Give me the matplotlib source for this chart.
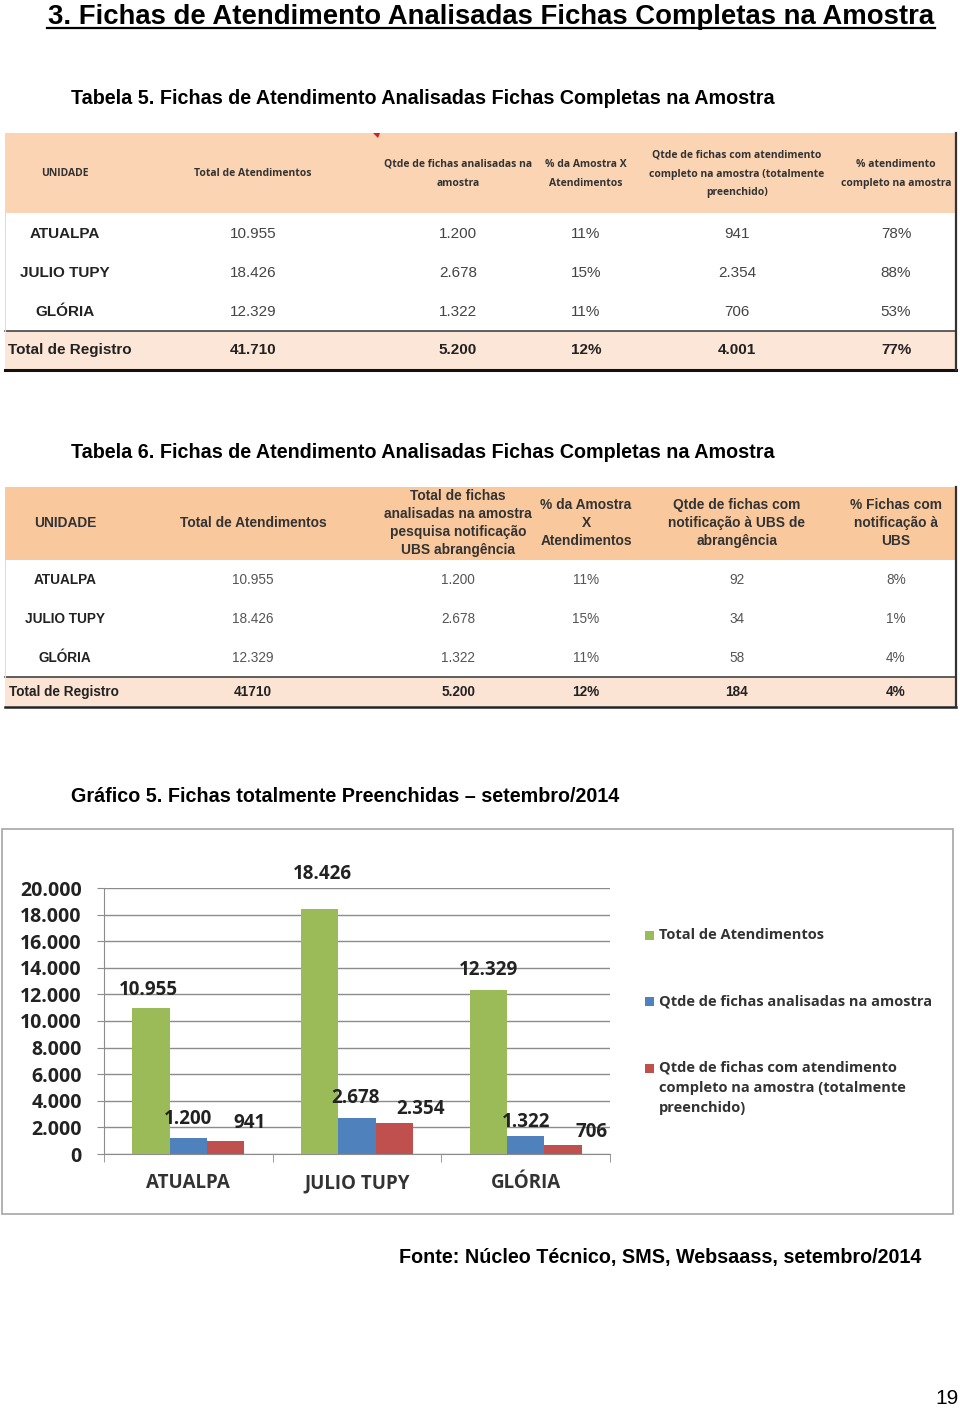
import matplotlib
matplotlib.use("Agg")
import matplotlib.pyplot as plt
from matplotlib.patches import Rectangle, Polygon

# data read from the page
units = ["ATUALPA", "JULIO TUPY", "GLÓRIA"]
total_atend = [10955, 18426, 12329]
fichas_amostra = [1200, 2678, 1322]
pct_amostra = [11, 15, 11]
fichas_completas = [941, 2354, 706]
pct_completas = [78, 88, 53]
fichas_notif = [92, 34, 58]
pct_notif = [8, 1, 4]

tot5 = ["41.710", "5.200", "12%", "4.001", "77%"]
tot6 = ["41710", "5.200", "12%", "184", "4%"]

head5 = ["UNIDADE", "Total de Atendimentos", "Qtde de fichas analisadas na\namostra",
         "% da Amostra X\nAtendimentos",
         "Qtde de fichas com atendimento\ncompleto na amostra (totalmente\npreenchido)",
         "% atendimento\ncompleto na amostra"]
head6 = ["UNIDADE", "Total de Atendimentos",
         "Total de fichas\nanalisadas na amostra\npesquisa notificação\nUBS abrangência",
         "% da Amostra\nX\nAtendimentos", "Qtde de fichas com\nnotificação à UBS de\nabrangência",
         "% Fichas com\nnotificação à\nUBS"]

series_names = ["Total de Atendimentos", "Qtde de fichas analisadas na amostra",
                "Qtde de fichas com atendimento\ncompleto na amostra (totalmente\npreenchido)"]
series_colors = ["#9BBB59", "#4F81BD", "#C0504D"]


def br(v):
    return f"{v:,}".replace(",", ".")


W, H = 960, 1412
fig = plt.figure(figsize=(W / 100, H / 100), dpi=100)
bg = fig.add_axes([0, 0, 1, 1])
bg.set_xlim(0, W)
bg.set_ylim(H, 0)
bg.axis("off")

AR = "Liberation Sans"
CAL = "Open Sans"

# page title
bg.text(491, 24, "3. Fichas de Atendimento Analisadas Fichas Completas na Amostra",
        ha="center", va="baseline", fontsize=19.8, fontweight="bold", family=AR)
bg.plot([47, 935], [27.5, 27.5], color="black", lw=1.6)

bg.text(71, 98, "Tabela 5. Fichas de Atendimento Analisadas Fichas Completas na Amostra",
        ha="left", va="center", fontsize=14.2, fontweight="bold", family=AR)
bg.text(71, 452, "Tabela 6. Fichas de Atendimento Analisadas Fichas Completas na Amostra",
        ha="left", va="center", fontsize=14.2, fontweight="bold", family=AR)
bg.text(71, 797, "Gráfico 5. Fichas totalmente Preenchidas – setembro/2014",
        ha="left", va="center", fontsize=14.2, fontweight="bold", family=AR)
bg.text(921, 1257, "Fonte: Núcleo Técnico, SMS, Websaass, setembro/2014",
        ha="right", va="center", fontsize=14.2, fontweight="bold", family=AR)
bg.text(959, 1399, "19", ha="right", va="center", fontsize=15, family=AR)

col_x = [65, 253, 458, 586, 737, 896]

# ---- Tabela 5
bg.add_patch(Rectangle((5, 133), 950, 80, color="#FBD4B4", lw=0))
bg.add_patch(Rectangle((5, 331), 950, 38, color="#FCE6D8", lw=0))
bg.plot([5, 955], [331, 331], color="#444444", lw=1.2)
bg.plot([5, 956], [369.5, 369.5], color="#111111", lw=2.2)
bg.plot([955.5, 955.5], [133, 370], color="#333333", lw=1.6)
bg.plot([5, 5], [213, 331], color="#DDDDDD", lw=0.8)
bg.add_patch(Polygon([[373, 133], [380, 133], [378, 138]], color="#CC2222", lw=0))
for x, h in zip(col_x, head5):
    bg.text(x, 174, h, ha="center", va="center", fontsize=7.5, fontweight="bold",
            family=CAL, color="#333333", linespacing=2.0)
rows5 = zip(units, total_atend, fichas_amostra, pct_amostra, fichas_completas, pct_completas)
for i, (u, a, b, c, d, e) in enumerate(rows5):
    y = 234 + 39 * i
    bg.text(col_x[0], y, u, ha="center", va="center", fontsize=11, fontweight="bold",
            family=AR, color="#222222")
    for x, v in zip(col_x[1:], [br(a), br(b), f"{c}%", br(d), f"{e}%"]):
        bg.text(x, y, v, ha="center", va="center", fontsize=11, family=AR, color="#444444")
bg.text(8, 350, "Total de Registro", ha="left", va="center", fontsize=11, fontweight="bold",
        family=AR, color="#222222")
for x, v in zip(col_x[1:], tot5):
    bg.text(x, 350, v, ha="center", va="center", fontsize=11, fontweight="bold",
            family=AR, color="#222222")

# ---- Tabela 6
bg.add_patch(Rectangle((5, 487), 950, 73, color="#F9C89D", lw=0))
bg.add_patch(Rectangle((5, 677), 950, 29, color="#FCE4D5", lw=0))
bg.plot([5, 955], [677, 677], color="#444444", lw=1.2)
bg.plot([5, 956], [706.5, 706.5], color="#222222", lw=1.8)
bg.plot([955.5, 955.5], [487, 707], color="#333333", lw=1.6)
bg.plot([5, 5], [560, 677], color="#DDDDDD", lw=0.8)
for x, h in zip(col_x, head6):
    bg.text(x, 523, h, ha="center", va="center", fontsize=9.9, fontweight="bold",
            family=AR, color="#333333", linespacing=1.35)
rows6 = zip(units, total_atend, fichas_amostra, pct_amostra, fichas_notif, pct_notif)
for i, (u, a, b, c, d, e) in enumerate(rows6):
    y = 580 + 39 * i
    bg.text(col_x[0], y, u, ha="center", va="center", fontsize=9.8, fontweight="bold",
            family=AR, color="#222222")
    for x, v in zip(col_x[1:], [br(a), br(b), f"{c}%", str(d), f"{e}%"]):
        bg.text(x, y, v, ha="center", va="center", fontsize=9.8, family=AR, color="#555555")
bg.text(9, 692, "Total de Registro", ha="left", va="center", fontsize=9.8, fontweight="bold",
        family=AR, color="#222222")
for x, v in zip(col_x[1:], tot6):
    bg.text(x, 692, v, ha="center", va="center", fontsize=9.8, fontweight="bold",
            family=AR, color="#222222")

# ---- Gráfico 5
bg.add_patch(Rectangle((2, 829), 951, 385, fill=False, ec="#A6A6A6", lw=1.2))

x0, x1, y0, y1 = 104, 610, 1154, 888
ax = fig.add_axes([x0 / W, (H - y0) / H, (x1 - x0) / W, (y0 - y1) / H])
ax.set_facecolor("none")
ax.set_xlim(-0.5, 2.5)
ax.set_ylim(0, 20000)
ax.set_yticks(range(0, 20001, 2000))
ax.set_yticklabels([br(v) for v in range(0, 20001, 2000)], fontsize=14,
                   fontweight="bold", family=CAL, color="#222222")
ax.grid(axis="y", color="#8C8C8C", lw=1)
ax.set_axisbelow(True)
for s in ["top", "right"]:
    ax.spines[s].set_visible(False)
ax.spines["left"].set_color("#8C8C8C")
ax.spines["bottom"].set_color("#8C8C8C")
ax.tick_params(axis="y", length=5, color="#8C8C8C", pad=11)
ax.set_xticks(range(len(units)))
ax.set_xticklabels(units, fontsize=13.5, fontweight="bold", family=CAL, color="#333333")
ax.set_xticks([-0.5, 0.5, 1.5, 2.5], minor=True)
ax.tick_params(axis="x", which="major", length=0, pad=14)
ax.tick_params(axis="x", which="minor", length=6, color="#8C8C8C")

bw = 0.222
series = [total_atend, fichas_amostra, fichas_completas]
label_dx = [[-2, 3, 0], [0, -2, 0], [24, 26, 28]]
label_dy = [[18, 35, 20], [19, 20, 14], [18, 14, 13]]
for k, (vals, col) in enumerate(zip(series, series_colors)):
    xs = [i + (k - 1) * bw for i in range(len(units))]
    ax.bar(xs, vals, width=bw, color=col, zorder=3)
    for j, (xx, v) in enumerate(zip(xs, vals)):
        ax.annotate(br(v), (xx, v), xytext=(label_dx[k][j], label_dy[k][j]),
                    textcoords="offset pixels", ha="center", va="center",
                    fontsize=13.5, fontweight="bold", family=CAL, color="#222222",
                    annotation_clip=False)

# legend
leg_y = [935, 1001, 1068]
for name, col, y in zip(series_names, series_colors, leg_y):
    bg.add_patch(Rectangle((645, y - 4), 9, 9, color=col, lw=0))
    bg.text(659, y - 7, name, ha="left", va="top", fontsize=10.5, fontweight="bold",
            family=CAL, color="#333333", linespacing=1.55)

fig.savefig("out.png", dpi=100)
